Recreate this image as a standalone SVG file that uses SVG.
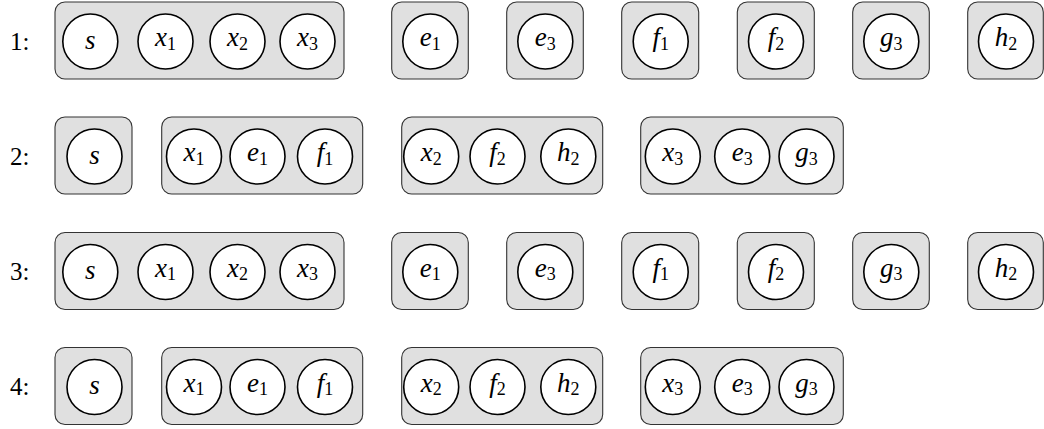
<svg xmlns="http://www.w3.org/2000/svg" width="1044" height="429" viewBox="0 0 1044 429">
<style>
.box{fill:#e0e0e0;stroke:#333;stroke-width:1.1}
.nd{fill:#fff;stroke:#000;stroke-width:1.6}
.t{font-family:"Liberation Serif","DejaVu Serif",serif;font-size:27px;font-style:italic;text-anchor:middle;fill:#000}
.s{font-style:normal;font-size:18px}
.lab{font-family:"Liberation Serif","DejaVu Serif",serif;font-size:25px;fill:#000}
</style>
<rect width="1044" height="429" fill="#fff"/>
<g id="labels">
<text class="lab" x="10" y="50">1:</text>
<text class="lab" x="10" y="165">2:</text>
<text class="lab" x="10" y="280">3:</text>
<text class="lab" x="10" y="395">4:</text>
</g>
<g id="connectors"/>
<!-- Row 1 -->
<g id="r1-group-sx">
<rect class="box" x="55" y="2" width="289" height="77" rx="10"/>
<g id="r1-s"><circle class="nd" cx="90.3" cy="41.5" r="27.5"/><text class="t" x="90.3" y="48.5">s</text></g>
<g id="r1-x1"><circle class="nd" cx="165.5" cy="41.5" r="27.5"/><text class="t" x="165.5" y="46">x<tspan class="s" dy="3.5">1</tspan></text></g>
<g id="r1-x2"><circle class="nd" cx="237.5" cy="41.5" r="27.5"/><text class="t" x="237.5" y="46">x<tspan class="s" dy="3.5">2</tspan></text></g>
<g id="r1-x3"><circle class="nd" cx="307.5" cy="41.5" r="27.5"/><text class="t" x="307.5" y="46">x<tspan class="s" dy="3.5">3</tspan></text></g>
</g>
<g id="r1-group-e1">
<rect class="box" x="391.7" y="2" width="76.6" height="77" rx="10"/>
<g id="r1-e1"><circle class="nd" cx="430.3" cy="41.5" r="27.5"/><text class="t" x="430.3" y="46">e<tspan class="s" dy="3.5">1</tspan></text></g>
</g>
<g id="r1-group-e3">
<rect class="box" x="506.7" y="2" width="76.6" height="77" rx="10"/>
<g id="r1-e3"><circle class="nd" cx="545.3" cy="41.5" r="27.5"/><text class="t" x="545.3" y="46">e<tspan class="s" dy="3.5">3</tspan></text></g>
</g>
<g id="r1-group-f1">
<rect class="box" x="621.7" y="2" width="77" height="77" rx="10"/>
<g id="r1-f1"><circle class="nd" cx="660.7" cy="41.5" r="27.5"/><text class="t" x="660.7" y="46">f<tspan class="s" dy="3.5">1</tspan></text></g>
</g>
<g id="r1-group-f2">
<rect class="box" x="737.3" y="2" width="77" height="77" rx="10"/>
<g id="r1-f2"><circle class="nd" cx="776" cy="41.5" r="27.5"/><text class="t" x="776" y="46">f<tspan class="s" dy="3.5">2</tspan></text></g>
</g>
<g id="r1-group-g3">
<rect class="box" x="852.7" y="2" width="76.6" height="77" rx="10"/>
<g id="r1-g3"><circle class="nd" cx="891.3" cy="41.5" r="27.5"/><text class="t" x="891.3" y="46">g<tspan class="s" dy="3.5">3</tspan></text></g>
</g>
<g id="r1-group-h2">
<rect class="box" x="967.7" y="2" width="75.6" height="77" rx="10"/>
<g id="r1-h2"><circle class="nd" cx="1006" cy="41.5" r="27.5"/><text class="t" x="1006" y="46">h<tspan class="s" dy="3.5">2</tspan></text></g>
</g>
<!-- Row 2 -->
<g id="r2-group-s">
<rect class="box" x="55" y="117" width="77" height="77" rx="10"/>
<g id="r2-s"><circle class="nd" cx="94.5" cy="156.5" r="27.5"/><text class="t" x="94.5" y="163.5">s</text></g>
</g>
<g id="r2-group-x1">
<rect class="box" x="161.7" y="117" width="201" height="77" rx="10"/>
<g id="r2-x1"><circle class="nd" cx="194" cy="156.5" r="27.5"/><text class="t" x="194" y="161">x<tspan class="s" dy="3.5">1</tspan></text></g>
<g id="r2-e1"><circle class="nd" cx="257.5" cy="156.5" r="27.5"/><text class="t" x="257.5" y="161">e<tspan class="s" dy="3.5">1</tspan></text></g>
<g id="r2-f1"><circle class="nd" cx="325" cy="156.5" r="27.5"/><text class="t" x="325" y="161">f<tspan class="s" dy="3.5">1</tspan></text></g>
</g>
<g id="r2-group-x2">
<rect class="box" x="401.7" y="117" width="201" height="77" rx="10"/>
<g id="r2-x2"><circle class="nd" cx="431.2" cy="156.5" r="27.5"/><text class="t" x="431.2" y="161">x<tspan class="s" dy="3.5">2</tspan></text></g>
<g id="r2-f2"><circle class="nd" cx="497.5" cy="156.5" r="27.5"/><text class="t" x="497.5" y="161">f<tspan class="s" dy="3.5">2</tspan></text></g>
<g id="r2-h2"><circle class="nd" cx="568.3" cy="156.5" r="27.5"/><text class="t" x="568.3" y="161">h<tspan class="s" dy="3.5">2</tspan></text></g>
</g>
<g id="r2-group-x3">
<rect class="box" x="640.7" y="117" width="202.6" height="77" rx="10"/>
<g id="r2-x3"><circle class="nd" cx="672.8" cy="156.5" r="27.5"/><text class="t" x="672.8" y="161">x<tspan class="s" dy="3.5">3</tspan></text></g>
<g id="r2-e3"><circle class="nd" cx="742.2" cy="156.5" r="27.5"/><text class="t" x="742.2" y="161">e<tspan class="s" dy="3.5">3</tspan></text></g>
<g id="r2-g3"><circle class="nd" cx="806.5" cy="156.5" r="27.5"/><text class="t" x="806.5" y="161">g<tspan class="s" dy="3.5">3</tspan></text></g>
</g>
<!-- Row 3 -->
<g id="r3-group-sx">
<rect class="box" x="55" y="232.5" width="289" height="77" rx="10"/>
<g id="r3-s"><circle class="nd" cx="90.3" cy="272" r="27.5"/><text class="t" x="90.3" y="279">s</text></g>
<g id="r3-x1"><circle class="nd" cx="165.5" cy="272" r="27.5"/><text class="t" x="165.5" y="276.5">x<tspan class="s" dy="3.5">1</tspan></text></g>
<g id="r3-x2"><circle class="nd" cx="237.5" cy="272" r="27.5"/><text class="t" x="237.5" y="276.5">x<tspan class="s" dy="3.5">2</tspan></text></g>
<g id="r3-x3"><circle class="nd" cx="307.5" cy="272" r="27.5"/><text class="t" x="307.5" y="276.5">x<tspan class="s" dy="3.5">3</tspan></text></g>
</g>
<g id="r3-group-e1">
<rect class="box" x="391.7" y="232.5" width="76.6" height="77" rx="10"/>
<g id="r3-e1"><circle class="nd" cx="430.3" cy="272" r="27.5"/><text class="t" x="430.3" y="276.5">e<tspan class="s" dy="3.5">1</tspan></text></g>
</g>
<g id="r3-group-e3">
<rect class="box" x="506.7" y="232.5" width="76.6" height="77" rx="10"/>
<g id="r3-e3"><circle class="nd" cx="545.3" cy="272" r="27.5"/><text class="t" x="545.3" y="276.5">e<tspan class="s" dy="3.5">3</tspan></text></g>
</g>
<g id="r3-group-f1">
<rect class="box" x="621.7" y="232.5" width="77" height="77" rx="10"/>
<g id="r3-f1"><circle class="nd" cx="660.7" cy="272" r="27.5"/><text class="t" x="660.7" y="276.5">f<tspan class="s" dy="3.5">1</tspan></text></g>
</g>
<g id="r3-group-f2">
<rect class="box" x="737.3" y="232.5" width="77" height="77" rx="10"/>
<g id="r3-f2"><circle class="nd" cx="776" cy="272" r="27.5"/><text class="t" x="776" y="276.5">f<tspan class="s" dy="3.5">2</tspan></text></g>
</g>
<g id="r3-group-g3">
<rect class="box" x="852.7" y="232.5" width="76.6" height="77" rx="10"/>
<g id="r3-g3"><circle class="nd" cx="891.3" cy="272" r="27.5"/><text class="t" x="891.3" y="276.5">g<tspan class="s" dy="3.5">3</tspan></text></g>
</g>
<g id="r3-group-h2">
<rect class="box" x="967.7" y="232.5" width="75.6" height="77" rx="10"/>
<g id="r3-h2"><circle class="nd" cx="1006" cy="272" r="27.5"/><text class="t" x="1006" y="276.5">h<tspan class="s" dy="3.5">2</tspan></text></g>
</g>
<!-- Row 4 -->
<g id="r4-group-s">
<rect class="box" x="55" y="347.5" width="77" height="77" rx="10"/>
<g id="r4-s"><circle class="nd" cx="94.5" cy="387" r="27.5"/><text class="t" x="94.5" y="394">s</text></g>
</g>
<g id="r4-group-x1">
<rect class="box" x="161.7" y="347.5" width="201" height="77" rx="10"/>
<g id="r4-x1"><circle class="nd" cx="194" cy="387" r="27.5"/><text class="t" x="194" y="391.5">x<tspan class="s" dy="3.5">1</tspan></text></g>
<g id="r4-e1"><circle class="nd" cx="257.5" cy="387" r="27.5"/><text class="t" x="257.5" y="391.5">e<tspan class="s" dy="3.5">1</tspan></text></g>
<g id="r4-f1"><circle class="nd" cx="325" cy="387" r="27.5"/><text class="t" x="325" y="391.5">f<tspan class="s" dy="3.5">1</tspan></text></g>
</g>
<g id="r4-group-x2">
<rect class="box" x="401.7" y="347.5" width="201" height="77" rx="10"/>
<g id="r4-x2"><circle class="nd" cx="431.2" cy="387" r="27.5"/><text class="t" x="431.2" y="391.5">x<tspan class="s" dy="3.5">2</tspan></text></g>
<g id="r4-f2"><circle class="nd" cx="497.5" cy="387" r="27.5"/><text class="t" x="497.5" y="391.5">f<tspan class="s" dy="3.5">2</tspan></text></g>
<g id="r4-h2"><circle class="nd" cx="568.3" cy="387" r="27.5"/><text class="t" x="568.3" y="391.5">h<tspan class="s" dy="3.5">2</tspan></text></g>
</g>
<g id="r4-group-x3">
<rect class="box" x="640.7" y="347.5" width="202.6" height="77" rx="10"/>
<g id="r4-x3"><circle class="nd" cx="672.8" cy="387" r="27.5"/><text class="t" x="672.8" y="391.5">x<tspan class="s" dy="3.5">3</tspan></text></g>
<g id="r4-e3"><circle class="nd" cx="742.2" cy="387" r="27.5"/><text class="t" x="742.2" y="391.5">e<tspan class="s" dy="3.5">3</tspan></text></g>
<g id="r4-g3"><circle class="nd" cx="806.5" cy="387" r="27.5"/><text class="t" x="806.5" y="391.5">g<tspan class="s" dy="3.5">3</tspan></text></g>
</g>
</svg>
